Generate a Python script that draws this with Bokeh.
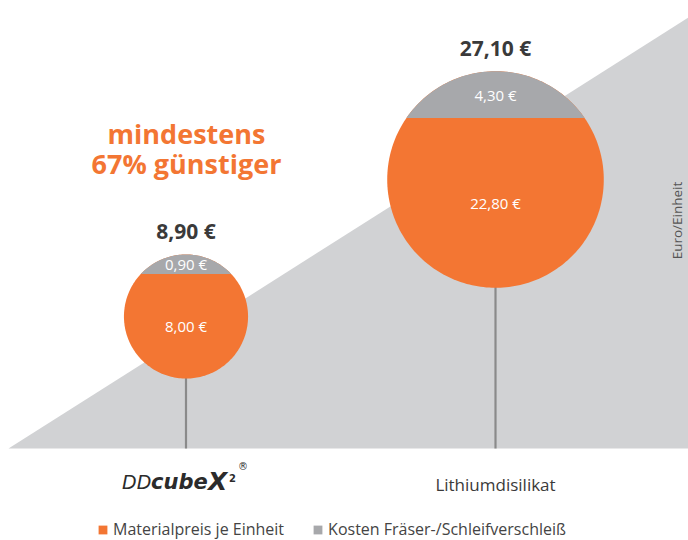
import numpy as np
from bokeh.plotting import figure
from bokeh.models import Range1d, ColumnDataSource, Legend, LegendItem
from bokeh.core.properties import value
from bokeh.embed import file_html
from bokeh.resources import INLINE

# ---------------- data ----------------
categories = ["DDcubeX²", "Lithiumdisilikat"]
material = [8.00, 22.80]          # Materialpreis je Einheit (€)
wear = [0.90, 4.30]               # Kosten Fräser-/Schleifverschleiß (€)
series_names = ["Materialpreis je Einheit", "Kosten Fräser-/Schleifverschleiß"]
axis_title = "Euro/Einheit"
headline = ["mindestens", "67% günstiger"]

totals = [m + w for m, w in zip(material, wear)]


def euro(v):
    return f"{v:.2f}".replace(".", ",") + " €"


# ---------------- layout / scales ----------------
W, H = 688, 540
PX_X = 309.5      # px per category step
PX_Y = 7.527      # px per euro
X0 = 185.5        # px position of first category
Y0 = 157.0        # px (from bottom) of 0 €
R_K = 20.8        # circle radius (px) per sqrt(€)  -> area ~ value

x_range = Range1d(-X0 / PX_X, (W - X0) / PX_X)
y_range = Range1d(-Y0 / PX_Y, (H - Y0) / PX_Y)


def ey(page_y):
    """page pixel row (from top) -> euro units"""
    return ((H - page_y) - Y0) / PX_Y


def ex(page_x):
    return (page_x - X0) / PX_X


BASE = ey(448)       # ground line
TOP = ey(17)         # top right of the triangle

ORANGE = "#F37633"
GRAY = "#A7A8AB"
LIGHT = "#D1D2D4"
DARK = "#3A3A3A"

p = figure(width=W, height=H, x_range=x_range, y_range=y_range,
           output_backend="svg", toolbar_location=None, min_border=0)
p.axis.visible = False
p.grid.visible = False
p.outline_line_color = None
p.background_fill_color = "white"
p.border_fill_color = "white"

# background wedge
p.patch([ex(8), x_range.end, x_range.end], [BASE, TOP, BASE],
        fill_color=LIGHT, line_color=None)

# stems
xs_cat = list(range(len(categories)))
p.segment(x0=xs_cat, y0=[BASE] * len(categories), x1=xs_cat, y1=totals,
          line_color="#8A8A8A", line_width=2.2)


def cap_height(frac, r):
    lo, hi = 0.0, 2.0
    for _ in range(60):
        t = (lo + hi) / 2
        a = np.arccos(1 - t) - (1 - t) * np.sqrt(max(2 * t - t * t, 0))
        if a / np.pi < frac:
            lo = t
        else:
            hi = t
    return (lo + hi) / 2 * r


circ_x, circ_y, cap_x, cap_y = [], [], [], []
lbl = dict(x=[], y=[], text=[])
tot_lbl = dict(x=[], y=[], text=[])
phi = np.linspace(0, 2 * np.pi, 240)
for i, (m, w, t) in enumerate(zip(material, wear, totals)):
    r = R_K * np.sqrt(t)
    h = cap_height(w / t, r)
    circ_x.append(list(i + r * np.cos(phi) / PX_X))
    circ_y.append(list(t + r * np.sin(phi) / PX_Y))
    th = np.arccos((r - h) / r)
    a = np.linspace(np.pi / 2 - th, np.pi / 2 + th, 120)
    cap_x.append(list(i + r * np.cos(a) / PX_X))
    cap_y.append(list(t + r * np.sin(a) / PX_Y))
    lbl["x"] += [i, i]
    lbl["y"] += [t + (r - h / 2) / PX_Y, t - (h / 2) / PX_Y]
    lbl["text"] += [euro(w), euro(m)]
    tot_lbl["x"].append(i)
    tot_lbl["y"].append(t + (r + 23) / PX_Y)
    tot_lbl["text"].append(euro(t))

r_mat = p.patches(circ_x, circ_y, fill_color=ORANGE, line_color=None)
r_wear = p.patches(cap_x, cap_y, fill_color=GRAY, line_color=None)

p.text(x="x", y="y", text="text", source=ColumnDataSource(lbl),
       text_font=value("Open Sans"), text_font_size="15px",
       text_color="white", text_align="center", text_baseline="middle")
p.text(x="x", y="y", text="text", source=ColumnDataSource(tot_lbl),
       text_font=value("Open Sans"), text_font_size="21px", text_font_style="bold",
       text_color=DARK, text_align="center", text_baseline="middle")

# headline
p.text(x=[ex(186), ex(186)], y=[ey(133), ey(163)], text=headline,
       text_font=value("Open Sans"), text_font_size="27px", text_font_style="bold",
       text_color=ORANGE, text_align="center", text_baseline="alphabetic")

# axis title (right)
p.text(x=[ex(676)], y=[ey(220)], text=[axis_title], angle=np.pi / 2,
       text_font=value("Open Sans"), text_font_size="13.5px",
       text_color="#555555", text_align="center", text_baseline="middle")

# category labels
p.text(x=[1], y=[ey(484)], text=[categories[1]],
       text_font=value("Open Sans"), text_font_size="17px",
       text_color=DARK, text_align="center", text_baseline="middle")

logo_y = ey(481)
p.text(x=[0], y=[logo_y], text=["DD"], x_offset=-64,
       text_font=value("DejaVu Sans"), text_font_size="19px", text_font_style="italic",
       text_color="#2b2b2b", text_align="left", text_baseline="alphabetic")
p.text(x=[0], y=[logo_y], text=["cube"], x_offset=-35,
       text_font=value("DejaVu Sans"), text_font_size="21px", text_font_style="bold italic",
       text_color="#2b2b2b", text_align="left", text_baseline="alphabetic")
p.text(x=[0], y=[logo_y], text=["X"], x_offset=22,
       text_font=value("DejaVu Sans"), text_font_size="25px", text_font_style="bold italic",
       text_color="#2b2b2b", text_align="left", text_baseline="alphabetic")
p.text(x=[0], y=[logo_y], text=["2"], x_offset=43, y_offset=-4,
       text_font=value("DejaVu Sans"), text_font_size="10px", text_font_style="bold",
       text_color="#2b2b2b", text_align="left", text_baseline="alphabetic")
p.text(x=[0], y=[logo_y], text=["®"], x_offset=52, y_offset=-15,
       text_font=value("DejaVu Sans"), text_font_size="10px",
       text_color="#2b2b2b", text_align="left", text_baseline="alphabetic")

legend = Legend(items=[LegendItem(label=series_names[0], renderers=[r_mat]),
                       LegendItem(label=series_names[1], renderers=[r_wear])],
                orientation="horizontal", location=(97, 0),
                glyph_width=11, glyph_height=11, label_standoff=5, spacing=28,
                padding=0, margin=0, border_line_color=None,
                background_fill_alpha=0,
                label_text_font="Open Sans", label_text_font_size="16px",
                label_text_color="#444444")
p.add_layout(legend)

open("out.html", "w").write(file_html(p, INLINE))
